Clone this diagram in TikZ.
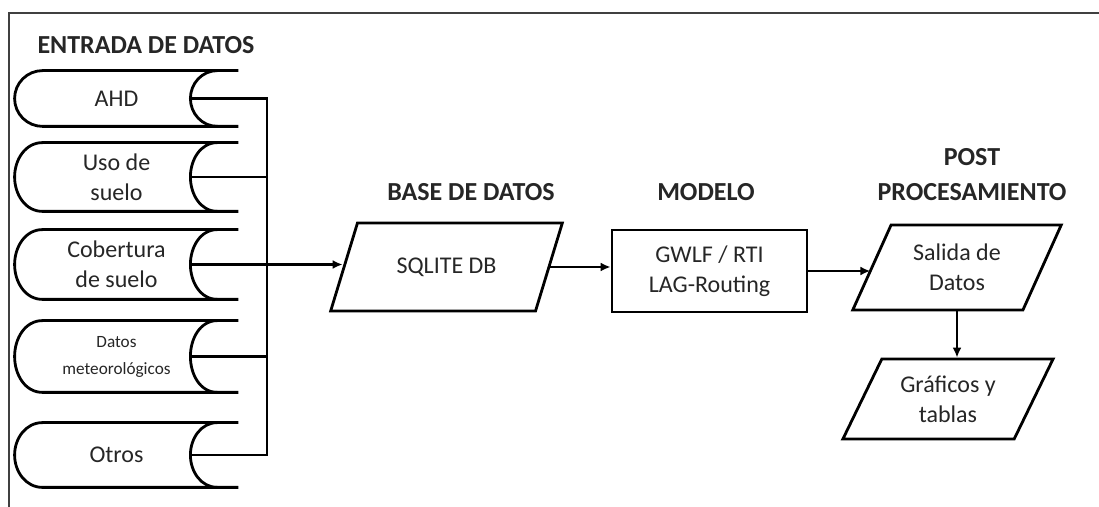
\documentclass[tikz,border=0pt]{standalone}
\usepackage{fontspec}
\setmainfont{Carlito}
\usepackage{tikz}
\usetikzlibrary{arrows.meta,shapes.geometric}

\begin{document}
\begin{tikzpicture}[x=0.5pt, y=-0.5pt,
    line/.style={line width=1.4pt},
    arr/.style={line width=1.4pt, -{Latex[length=5pt,width=4.5pt]}},
    title/.style={font=\fontsize{13}{17.5}\selectfont\bfseries, text=black!85, align=center},
    txt/.style={font=\fontsize{12}{15}\selectfont, text=black!85, align=center},
    store/.style={txt, inner sep=0pt, minimum width=73.5pt},
    box/.style={txt, draw, line width=1.4pt, minimum width=97.5pt, minimum height=41pt},
    para/.style={txt, draw, line width=1.4pt, trapezium, trapezium stretches}]
    \useasboundingbox (0,0) rectangle (1099,507);
    \draw[line width=0.9pt, black!75] (9,507) -- (9,13) -- (1099,13);

    \node[title] (tin) at (146,45) {ENTRADA DE DATOS};
    \node[store, minimum height=27.5pt] (ahd) at (116.5,98.5) {AHD};
    \node[store, minimum height=34pt] (uso) at (116.5,177) {Uso de\\suelo};
    \node[store, minimum height=34.5pt] (cob) at (116.5,264.5) {Cobertura\\de suelo};
    \node[store, minimum height=35.5pt, font=\fontsize{8.6}{13.5}\selectfont] (met) at (116.5,356.5) {Datos\\meteorológicos};
    \node[store, minimum height=32pt] (otr) at (116.5,455) {Otros};
    \coordinate (bus) at (267,0);

\foreach \s in {ahd,uso,cob,met,otr}{
    \draw[line] ([xshift=24pt]\s.north east) -- (\s.north west)
        to[out=180,in=90] ([xshift=-14pt]\s.west)
        to[out=-90,in=180] (\s.south west) -- ([xshift=24pt]\s.south east);
    \draw[line] ([xshift=13.5pt]\s.north east) to[out=180,in=90] (\s.east)
        to[out=-90,in=180] ([xshift=13.5pt]\s.south east);
}
    \draw[line] (ahd.east) -- (ahd.east -| bus) -- (otr.east -| bus) -- (otr.east);
    \draw[line] (uso.east) -- (uso.east -| bus);
    \draw[line] (met.east) -- (met.east -| bus);

    \node[title] (tdb) at (471,192) {BASE DE DATOS};
    \node[para, trapezium left angle=62, trapezium right angle=118,
        minimum width=116.5pt, minimum height=44pt] (db) at (446.5,267) {SQLITE DB};
    \node[title] (tmd) at (706,192) {MODELO};
    \node[box] (mdl) at (709.5,271) {GWLF / RTI\\LAG-Routing};
    \node[title] (tpp) at (972,175) {POST\\PROCESAMIENTO};
    \node[para, trapezium left angle=64, trapezium right angle=116,
        minimum width=104.5pt, minimum height=42.5pt] (sal) at (957,267.5) {Salida de\\Datos};
    \node[para, trapezium left angle=62, trapezium right angle=118,
        minimum width=106pt, minimum height=40pt] (gra) at (948,399) {Gráficos y\\tablas};

    \draw[arr] (cob.east) -- (cob.east -| db.west);
    \draw[arr] (db.east) -- (db.east -| mdl.west);
    \draw[arr] (mdl.east) -- (mdl.east -| sal.west);
    \draw[arr] (sal.south) -- (sal.south |- gra.north);
\end{tikzpicture}
\end{document}
